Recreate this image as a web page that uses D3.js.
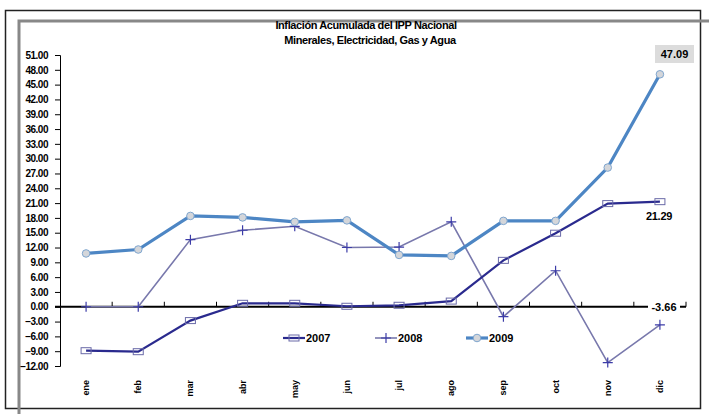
<!DOCTYPE html>
<html>
<head>
<meta charset="utf-8">
<script src="https://cdn.jsdelivr.net/npm/d3@7"></script>
<style>
  body { margin: 0; background: #fff; }
  text { font-family: "Liberation Sans", Arial, sans-serif; font-weight: bold; }
</style>
</head>
<body>
<div id="chart"></div>
<script>
const months = ["ene", "feb", "mar", "abr", "may", "jun", "jul", "ago", "sep", "oct", "nov", "dic"];
const s2007 = [-8.9, -9.1, -2.8, 0.7, 0.7, 0.1, 0.3, 1.15, 9.4, 14.9, 20.9, 21.29];
const s2008 = [0, 0, 13.6, 15.5, 16.3, 12.0, 12.1, 17.2, -2.0, 7.3, -11.3, -3.66];
const s2009 = [10.8, 11.6, 18.4, 18.1, 17.2, 17.5, 10.5, 10.3, 17.4, 17.4, 28.2, 47.09];
const yTicks = d3.range(-12, 52, 3);

const width = 709, height = 414;
const svg = d3.select("#chart").append("svg")
    .attr("width", width).attr("height", height);

// marcos
svg.append("rect").attr("x", 5.5).attr("y", 10.5).attr("width", 695).attr("height", 398)
    .attr("fill", "none").attr("stroke", "#222").attr("stroke-width", 1.5);
svg.append("path").attr("d", "M19,414 V21 H709")
    .attr("fill", "none").attr("stroke", "#888").attr("stroke-width", 3);

// titulo
svg.append("text").attr("x", 366).attr("y", 29).attr("text-anchor", "middle")
    .attr("font-size", 11).attr("letter-spacing", -0.4).text("Inflación Acumulada del IPP Nacional");
svg.append("text").attr("x", 370).attr("y", 44).attr("text-anchor", "middle")
    .attr("font-size", 11).attr("letter-spacing", -0.4).text("Minerales, Electricidad, Gas y Agua");

const x = d3.scaleBand().domain(months).range([60, 686]);
const y = d3.scaleLinear().domain([-12, 51]).range([366, 55]);
const cx = m => x(m) + x.bandwidth() / 2;

// eje y
const yAxis = svg.append("g").attr("transform", "translate(60,0)")
    .call(d3.axisLeft(y).tickValues(yTicks).tickFormat(d3.format(".2f")).tickSize(5).tickPadding(7));
yAxis.select(".domain").attr("stroke", "#000");
yAxis.selectAll("text").attr("font-size", 10).attr("letter-spacing", -0.5).attr("fill", "#000");

// eje x en cero
const xAxis = svg.append("g").attr("transform", `translate(0,${y(0)})`);
xAxis.append("line").attr("x1", 55).attr("x2", 686).attr("stroke", "#000").attr("stroke-width", 2);
xAxis.selectAll(".tk").data(d3.range(1, 13)).join("line")
    .attr("x1", i => 60 + i * x.bandwidth()).attr("x2", i => 60 + i * x.bandwidth())
    .attr("y1", 0).attr("y2", -5).attr("stroke", "#000");

// etiquetas de meses
svg.selectAll(".mes").data(months).join("text")
    .attr("transform", d => `translate(${cx(d) + 3},380) rotate(-90)`)
    .attr("text-anchor", "end").attr("font-size", 9).text(d => d);

const line = d3.line().x((d, i) => cx(months[i])).y(d => y(d));

// 2008
svg.append("path").datum(s2008).attr("d", line)
    .attr("fill", "none").attr("stroke", "#7878ac").attr("stroke-width", 1.6);
svg.selectAll(".m08").data(s2008).join("path")
    .attr("d", (d, i) => { const px = cx(months[i]), py = y(d); return `M${px - 5},${py}H${px + 5}M${px},${py - 5}V${py + 5}`; })
    .attr("stroke", "#3c3ca8").attr("stroke-width", 1.2);

// 2007
svg.append("path").datum(s2007).attr("d", line)
    .attr("fill", "none").attr("stroke", "#2a2a8e").attr("stroke-width", 2.2);
svg.selectAll(".m07").data(s2007).join("rect")
    .attr("x", (d, i) => cx(months[i]) - 5).attr("y", d => y(d) - 3)
    .attr("width", 10).attr("height", 6)
    .attr("fill", "none").attr("stroke", "#6a6aa8").attr("stroke-width", 1);

// 2009
svg.append("path").datum(s2009).attr("d", line)
    .attr("fill", "none").attr("stroke", "#4d86c4").attr("stroke-width", 3.2);
svg.selectAll(".m09").data(s2009).join("circle")
    .attr("cx", (d, i) => cx(months[i])).attr("cy", d => y(d)).attr("r", 3.8)
    .attr("fill", "#d4d6da").attr("stroke", "#7fa6cf").attr("stroke-width", 1);

// etiquetas de datos
const last = months[11];
const lb = svg.append("g");
lb.append("rect").attr("x", 648).attr("y", 299).attr("width", 32).attr("height", 14).attr("fill", "#fff");
lb.append("text").attr("x", 664).attr("y", y(0) + 4).attr("text-anchor", "middle")
    .attr("font-size", 11).attr("font-weight", "normal").text(s2008[11].toFixed(2));
lb.append("text").attr("x", 659).attr("y", y(s2007[11]) + 18).attr("text-anchor", "middle")
    .attr("font-size", 11).attr("letter-spacing", -0.3).text(s2007[11].toFixed(2));
lb.append("rect").attr("x", 655).attr("y", 45).attr("width", 39).attr("height", 18).attr("fill", "#dcdcdc");
lb.append("text").attr("x", 674.5).attr("y", 58).attr("text-anchor", "middle")
    .attr("font-family", "DejaVu Sans").attr("font-size", 11).text(s2009[11].toFixed(2));

// leyenda
const legend = [
  { name: "2007", x: 283, color: "#2a2a8e", w: 2.2, mk: "rect" },
  { name: "2008", x: 375, color: "#7878ac", w: 1.6, mk: "plus" },
  { name: "2009", x: 466, color: "#4d86c4", w: 3.2, mk: "circle" }
];
const lg = svg.selectAll(".lg").data(legend).join("g").attr("transform", d => `translate(${d.x},338)`);
lg.append("line").attr("x1", 0).attr("x2", 22).attr("stroke", d => d.color).attr("stroke-width", d => d.w);
lg.each(function (d) {
  const g = d3.select(this);
  if (d.mk === "rect") g.append("rect").attr("x", 6).attr("y", -3).attr("width", 10).attr("height", 6)
      .attr("fill", "none").attr("stroke", "#6a6aa8");
  if (d.mk === "plus") g.append("path").attr("d", "M6,0H16M11,-5V5").attr("stroke", "#3c3ca8").attr("stroke-width", 1.2);
  if (d.mk === "circle") g.append("circle").attr("cx", 11).attr("r", 3.8).attr("fill", "#d4d6da").attr("stroke", "#7fa6cf");
});
lg.append("text").attr("x", 23).attr("y", 4).attr("font-size", 11).text(d => d.name);
</script>
</body>
</html>
